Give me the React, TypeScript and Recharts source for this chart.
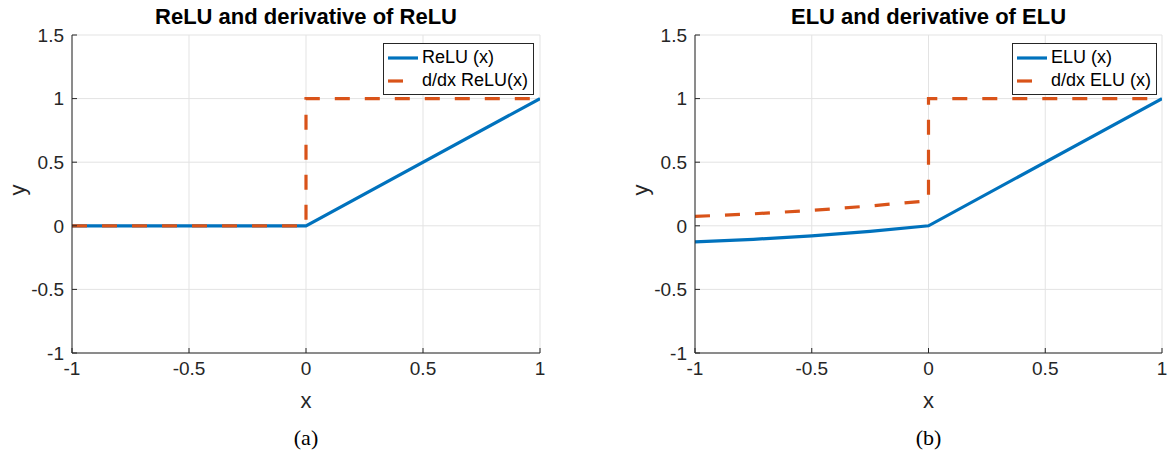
import React from "react";
import {
  LineChart, Line, XAxis, YAxis, CartesianGrid, Legend,
} from "recharts";

const xTicks = [-1, -0.5, 0, 0.5, 1];
const yTicks = [-1, -0.5, 0, 0.5, 1, 1.5];

const reluX = [-1, 0, 1];
const reluY = [0, 0, 1];
const reluDX = [-1, 0, 0, 1];
const reluDY = [0, 0, 1, 1];

const eluX = [-1, -0.75, -0.5, -0.25, 0, 1];
const eluY = [-0.126, -0.106, -0.079, -0.044, 0, 1];
const eluDX = [-1, -0.75, -0.5, -0.25, 0, 0, 1];
const eluDY = [0.074, 0.094, 0.121, 0.156, 0.197, 1, 1];

const BLUE = "#0072BD";
const ORANGE = "#D95319";
const AXIS = "#262626";
const FONT = "'Liberation Sans', Arial, Helvetica, sans-serif";

const zip = (xs: number[], ys: number[]) => xs.map((x, i) => ({ x, y: ys[i] }));

const LegendBox = ({ payload }: { payload?: { value: string; color: string }[] }) => {
  if (!payload) return null;
  return (
    <div style={{
      border: `1px solid ${AXIS}`, background: "#fff", padding: "2px 5px 2px 4px",
      fontFamily: FONT, fontSize: 18, color: "#000", lineHeight: "23px", whiteSpace: "nowrap",
    }}>
      {payload.map((p, i) => (
        <div key={i} style={{ display: "flex", alignItems: "center" }}>
          <svg width={30} height={6} style={{ marginRight: 4 }}>
            <line x1={0} y1={3} x2={30} y2={3} stroke={p.color} strokeWidth={3.2}
              strokeDasharray={i === 1 ? "15 15" : undefined} />
          </svg>
          <span>{p.value}</span>
        </div>
      ))}
    </div>
  );
};

interface PanelProps {
  left: number;
  plotLeft: number;
  plotRight: number;
  title: string;
  tag: string;
  fx: number[]; fy: number[];
  dx: number[]; dy: number[];
  nameF: string; nameD: string;
  legendLeft: number;
}

const W = 584;
const H = 459;
const TOP = 35;
const BOTTOM = 353;

function Panel({ left, plotLeft, plotRight, title, tag, fx, fy, dx, dy, nameF, nameD, legendLeft }: PanelProps) {
  const cx = (plotLeft + plotRight) / 2;
  const tickStyle = { fill: AXIS, fontSize: 19, fontFamily: FONT };
  return (
    <div style={{ position: "absolute", left, top: 0, width: W, height: H }}>
      <LineChart width={W} height={H}
        margin={{ top: TOP, right: W - plotRight, bottom: H - BOTTOM - 30, left: plotLeft - 40 }}>
        <CartesianGrid stroke="#e3e3e3" strokeWidth={1} />
        <XAxis dataKey="x" type="number" domain={[-1, 1]} ticks={xTicks} height={30}
          axisLine={{ stroke: AXIS }} tickLine={{ stroke: AXIS }} tickSize={-5} tickMargin={14}
          tick={tickStyle} allowDataOverflow />
        <XAxis xAxisId="top" orientation="top" dataKey="x" type="number" domain={[-1, 1]} ticks={xTicks}
          height={0} axisLine={{ stroke: AXIS }} tickLine={{ stroke: AXIS }} tickSize={-5} tick={false} />
        <YAxis type="number" domain={[-1, 1.5]} ticks={yTicks} width={40}
          axisLine={{ stroke: AXIS }} tickLine={{ stroke: AXIS }} tickSize={-5} tickMargin={13}
          tick={tickStyle} allowDataOverflow />
        <YAxis yAxisId="right" orientation="right" type="number" domain={[-1, 1.5]} ticks={yTicks}
          width={0} axisLine={{ stroke: AXIS }} tickLine={{ stroke: AXIS }} tickSize={-5} tick={false} />
        <Line data={zip(fx, fy)} dataKey="y" name={nameF} type="linear" stroke={BLUE} strokeWidth={3.2}
          dot={false} activeDot={false} isAnimationActive={false} />
        <Line data={zip(dx, dy)} dataKey="y" name={nameD} type="linear" stroke={ORANGE} strokeWidth={3.2}
          strokeDasharray="15 15" dot={false} activeDot={false} isAnimationActive={false} />
        <Legend layout="vertical" align="center" verticalAlign="middle" content={<LegendBox />}
          wrapperStyle={{ top: 43, left: legendLeft, width: "auto", height: "auto" }} />
      </LineChart>
      <div style={{ position: "absolute", left: cx, top: 17, transform: "translate(-50%,-50%)",
        fontFamily: FONT, fontWeight: "bold", fontSize: 22, whiteSpace: "nowrap", color: "#000" }}>{title}</div>
      <div style={{ position: "absolute", left: cx, top: 401, transform: "translate(-50%,-50%)",
        fontFamily: FONT, fontSize: 22, color: AXIS }}>x</div>
      <div style={{ position: "absolute", left: plotLeft - 54, top: 190, transform: "translate(-50%,-50%) rotate(-90deg)",
        fontFamily: FONT, fontSize: 22, color: AXIS }}>y</div>
      <div style={{ position: "absolute", left: cx, top: 438, transform: "translate(-50%,-50%)",
        fontFamily: "'Liberation Serif', 'Times New Roman', serif", fontSize: 22, color: "#000" }}>{tag}</div>
    </div>
  );
}

export default function App() {
  return (
    <div style={{ position: "absolute", left: 0, top: 0, width: 1168, height: 459, background: "#fff" }}>
      <Panel left={0} plotLeft={72} plotRight={540} title="ReLU and derivative of ReLU" tag="(a)"
        fx={reluX} fy={reluY} dx={reluDX} dy={reluDY} nameF="ReLU (x)" nameD="d/dx ReLU(x)" legendLeft={383} />
      <Panel left={584} plotLeft={111} plotRight={578} title="ELU and derivative of ELU" tag="(b)"
        fx={eluX} fy={eluY} dx={eluDX} dy={eluDY} nameF="ELU (x)" nameD="d/dx ELU (x)" legendLeft={428} />
    </div>
  );
}
